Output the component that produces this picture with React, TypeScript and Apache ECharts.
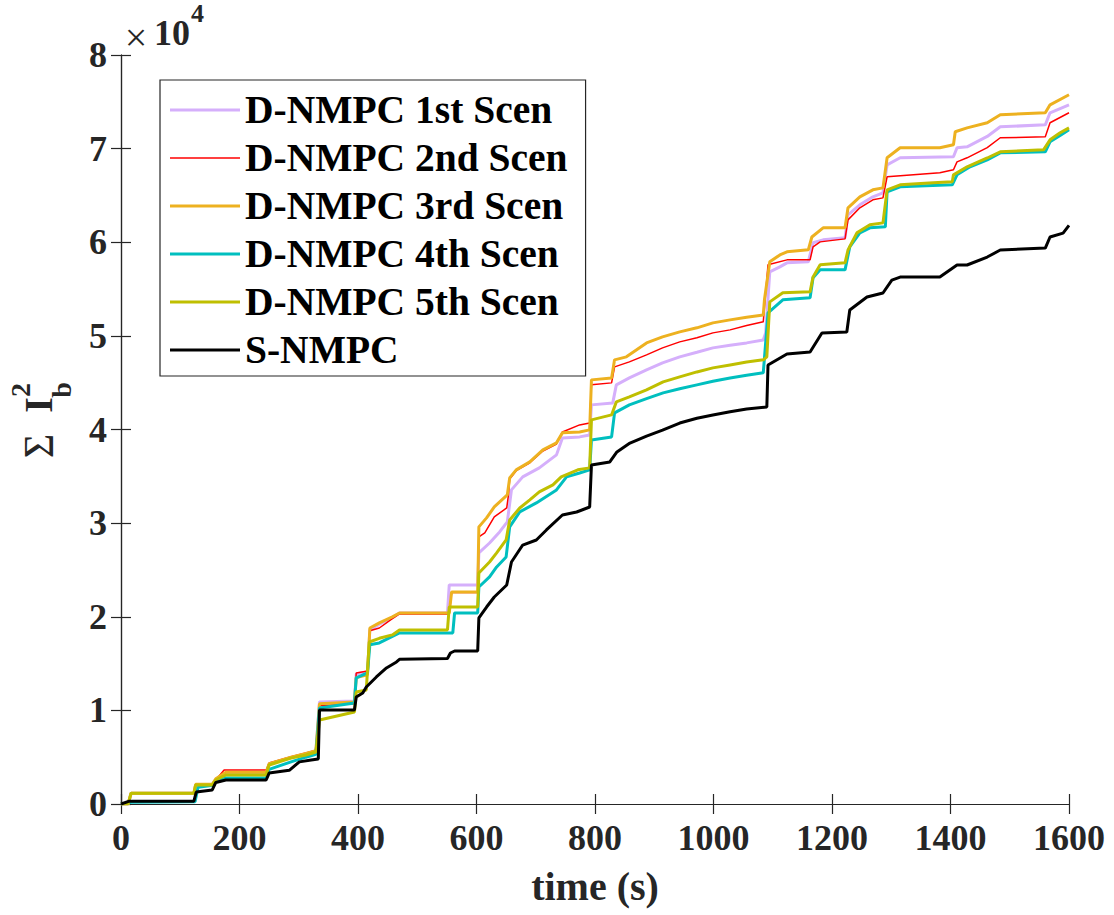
import React, { useEffect, useRef } from 'react';
import * as echarts from 'echarts';

// Cumulative sum of squared battery current, [time (s), ΣIb²]
const scen1: [number, number][] = [[0,0],[12,0],[17,1150],[123,1150],[126,2050],[154,2050],[160,2650],[177,3300],[245,3300],[250,4250],[287,4950],[312,5350],[329,5650],[335,10900],[394,11000],[397,13900],[416,14100],[420,18600],[436,19200],[458,19900],[470,20400],[551,20400],[554,23400],[602,23400],[604,26820],[622,27880],[639,29060],[652,30130],[659,33550],[678,34940],[706,35900],[735,37290],[745,39100],[774,39210],[791,39420],[794,42630],[830,42840],[836,44770],[858,45510],[887,46370],[914,47120],[943,47760],[972,48250],[999,48720],[1028,49000],[1056,49250],[1084,49570],[1088,50320],[1095,56840],[1112,57370],[1124,57800],[1160,57910],[1168,59940],[1185,60260],[1222,60470],[1227,62930],[1247,64000],[1269,64850],[1286,65280],[1293,68270],[1315,69020],[1405,69130],[1411,70090],[1428,70190],[1462,71300],[1484,72330],[1560,72540],[1568,73830],[1600,74680]];

const scen2: [number, number][] = [[0,0],[12,0],[17,1150],[123,1150],[126,2030],[154,2100],[160,2560],[174,3630],[245,3630],[250,4380],[287,5050],[312,5450],[329,5750],[335,10500],[394,10700],[397,14000],[416,14200],[420,18500],[436,18800],[458,19800],[470,20300],[554,20300],[558,22600],[602,22600],[604,28520],[614,28950],[630,30660],[651,31620],[654,33010],[656,34700],[667,35600],[690,36450],[712,37700],[735,38450],[745,39740],[774,40490],[791,40700],[794,44770],[828,44980],[833,46690],[858,47220],[887,47970],[914,48720],[943,49360],[972,49790],[999,50320],[1028,50640],[1056,51100],[1084,51500],[1092,57590],[1124,58120],[1163,58120],[1168,59510],[1180,60040],[1222,60360],[1227,62390],[1247,63680],[1269,64530],[1286,64740],[1293,66990],[1382,67420],[1405,67740],[1411,68590],[1428,69020],[1462,70100],[1484,71160],[1560,71260],[1568,72760],[1600,73830]];

const scen3: [number, number][] = [[0,0],[12,0],[17,1150],[123,1150],[126,2100],[154,2100],[160,2700],[177,3400],[245,3400],[250,4300],[287,5000],[312,5400],[329,5700],[335,10700],[394,10900],[397,13500],[416,13800],[420,18800],[436,19340],[458,19980],[470,20400],[554,20400],[558,22650],[602,22650],[604,29600],[617,30560],[630,31730],[652,33010],[656,34830],[667,35690],[690,36540],[712,37820],[735,38570],[745,39640],[774,39740],[791,39960],[794,45300],[828,45510],[833,47440],[853,47760],[887,49250],[914,49890],[943,50430],[972,50860],[999,51390],[1028,51710],[1056,52000],[1084,52240],[1086,53850],[1095,57910],[1112,58650],[1124,58980],[1160,59190],[1166,60560],[1185,61540],[1222,61540],[1227,63680],[1247,64850],[1269,65600],[1286,65810],[1293,69020],[1315,70090],[1382,70090],[1405,70410],[1408,71800],[1428,72220],[1462,72760],[1484,73610],[1560,73830],[1568,74680],[1600,75750]];

const scen4: [number, number][] = [[0,0],[20,200],[125,250],[130,1800],[155,2000],[160,2400],[177,2780],[245,2780],[250,3700],[287,4500],[312,5000],[329,5300],[335,10250],[394,10790],[397,13460],[416,14000],[420,17000],[436,17200],[458,17900],[470,18270],[560,18270],[563,20400],[602,20400],[604,23180],[622,24250],[634,25320],[650,26390],[656,29600],[673,31200],[701,32160],[735,33550],[752,34940],[774,35360],[791,35690],[794,38890],[828,39210],[833,41770],[858,42630],[887,43300],[915,43910],[943,44350],[972,44770],[999,45150],[1028,45510],[1056,45800],[1084,46050],[1092,52460],[1117,53850],[1163,54060],[1168,56200],[1180,57050],[1222,57050],[1230,59510],[1247,61000],[1264,61540],[1290,61650],[1293,65390],[1315,65920],[1403,66130],[1411,67200],[1433,68060],[1462,68800],[1484,69550],[1560,69660],[1568,70730],[1585,71400],[1600,72010]];

const scen5: [number, number][] = [[0,0],[12,0],[17,1150],[123,1150],[126,2030],[154,2030],[160,2560],[177,3100],[245,3100],[250,4170],[287,4900],[312,5230],[329,5550],[335,8970],[394,9830],[397,11960],[414,12180],[419,17300],[436,17700],[458,18060],[470,18590],[551,18590],[554,21050],[602,21050],[604,24680],[622,25850],[634,26820],[650,28200],[656,30340],[673,31620],[690,32480],[706,33330],[729,34080],[743,34940],[771,35690],[791,35900],[794,41030],[828,41560],[836,42950],[858,43480],[887,44230],[915,45090],[943,45620],[972,46150],[999,46580],[1028,46900],[1056,47200],[1084,47440],[1090,47760],[1095,53630],[1117,54600],[1163,54700],[1168,56300],[1180,57590],[1222,57800],[1227,59170],[1242,61000],[1264,61860],[1286,62070],[1293,65600],[1315,66130],[1371,66350],[1403,66450],[1405,67200],[1428,68060],[1462,69000],[1484,69660],[1557,69870],[1568,70940],[1585,71690],[1600,72220]];

const sNmpc: [number, number][] = [[0,0],[14,300],[123,300],[127,1280],[154,1500],[160,2300],[177,2560],[245,2560],[250,3300],[284,3600],[301,4500],[321,4700],[333,4800],[335,10040],[394,10040],[397,11430],[408,11860],[414,12500],[431,13570],[448,14530],[465,15170],[470,15450],[551,15550],[556,16130],[563,16340],[602,16340],[604,19870],[617,21040],[630,22110],[651,23390],[659,25850],[678,27660],[701,28200],[718,29270],[745,30870],[769,31190],[791,31720],[794,36200],[825,36530],[837,37600],[859,38550],[887,39300],[914,39940],[943,40690],[972,41200],[999,41550],[1028,41900],[1056,42200],[1090,42400],[1092,46890],[1124,48070],[1163,48270],[1183,50300],[1225,50410],[1230,52760],[1259,54150],[1286,54580],[1301,55960],[1315,56280],[1382,56280],[1411,57570],[1428,57570],[1462,58420],[1484,59170],[1560,59380],[1568,60560],[1590,60980],[1600,61800]];

const seriesNames = ['D-NMPC 1st Scen', 'D-NMPC 2nd Scen', 'D-NMPC 3rd Scen', 'D-NMPC 4th Scen', 'D-NMPC 5th Scen', 'S-NMPC'];
const seriesData = [scen1, scen2, scen3, scen4, scen5, sNmpc];
const seriesColors = ['#D5AFFB', '#FF0000', '#EDB120', '#00BFBF', '#BFBF00', '#000000'];
const seriesWidths = [3, 1.5, 3, 3, 3, 3];

const xTicks = { min: 0, max: 1600, step: 200 };
const yTicks = { min: 0, max: 80000, step: 10000 };
const yScale = 10000;

const SERIF = '"Liberation Serif", "Times New Roman", serif';
const AXIS = '#262626';

export default function App() {
  const ref = useRef<HTMLDivElement>(null);

  useEffect(() => {
    if (!ref.current) return;
    const chart = echarts.init(ref.current, null, { renderer: 'svg' });

    const tickLabel = { fontFamily: SERIF, fontWeight: 'bold' as const, fontSize: 36, color: AXIS };
    const boxAxis = {
      axisLine: { show: true, lineStyle: { color: AXIS, width: 1.2 } },
      axisTick: { show: true, inside: true, length: 10, lineStyle: { color: AXIS, width: 1.2 } },
      splitLine: { show: false },
    };

    chart.setOption({
      animation: false,
      backgroundColor: '#ffffff',
      grid: { left: 121, right: 45, top: 55, bottom: 111 },
      xAxis: [
        {
          type: 'value', min: xTicks.min, max: xTicks.max, interval: xTicks.step,
          position: 'bottom', ...boxAxis,
          axisLabel: { ...tickLabel, margin: 16, formatter: (v: number) => String(v) },
          name: 'time (s)', nameLocation: 'middle', nameGap: 62,
          nameTextStyle: { fontFamily: SERIF, fontWeight: 'bold', fontSize: 40, color: AXIS },
        },
        {
          type: 'value', min: xTicks.min, max: xTicks.max, interval: xTicks.step,
          position: 'top', ...boxAxis, axisLabel: { show: false },
        },
      ],
      yAxis: [
        {
          type: 'value', min: yTicks.min, max: yTicks.max, interval: yTicks.step,
          position: 'left', ...boxAxis,
          axisLabel: { ...tickLabel, margin: 14, formatter: (v: number) => String(v / yScale) },
        },
        {
          type: 'value', min: yTicks.min, max: yTicks.max, interval: yTicks.step,
          position: 'right', ...boxAxis, axisLabel: { show: false },
        },
      ],
      legend: {
        orient: 'vertical', left: 160, top: 80,
        data: seriesNames.map((name, i) => ({
          name,
          icon: i === 1 ? 'path://M0,0H70V1.6H0Z' : 'rect',
        })),
        itemWidth: 70, itemHeight: 3, itemGap: 0,
        padding: [6, 18, 2, 10],
        borderColor: AXIS, borderWidth: 1.2,
        backgroundColor: '#ffffff',
        selectedMode: false,
        textStyle: { fontFamily: SERIF, fontWeight: 'bold', fontSize: 39.5, color: '#000', lineHeight: 48 },
      },
      series: seriesData.map((data, i) => ({
        name: seriesNames[i], type: 'line', data,
        xAxisIndex: 0, yAxisIndex: 0,
        symbol: 'none', showSymbol: false,
        lineStyle: { color: seriesColors[i], width: seriesWidths[i] },
        itemStyle: { color: seriesColors[i] },
        z: 2 + i,
      })),
      graphic: [
        // ΣIb² axis title, rotated to read upwards
        {
          type: 'group', x: 52, y: 458, rotation: Math.PI / 2,
          children: [
            { type: 'text', x: 12, y: -13, style: { text: 'Σ', font: `42px ${SERIF}`, fill: AXIS, textAlign: 'center', textVerticalAlign: 'middle' } },
            { type: 'text', x: 53, y: -14, style: { text: 'I', font: `bold 40px ${SERIF}`, fill: AXIS, textAlign: 'center', textVerticalAlign: 'middle' } },
            { type: 'text', x: 68, y: 9, style: { text: 'b', font: `bold 28px ${SERIF}`, fill: AXIS, textAlign: 'center', textVerticalAlign: 'middle' } },
            { type: 'text', x: 68, y: -32, style: { text: '2', font: `bold 28px ${SERIF}`, fill: AXIS, textAlign: 'center', textVerticalAlign: 'middle' } },
          ],
        },
        // ×10⁴ axis exponent
        { type: 'text', x: 136, y: 37, style: { text: '×', font: `40px ${SERIF}`, fill: AXIS, textAlign: 'center', textVerticalAlign: 'middle' } },
        { type: 'text', x: 154, y: 33, style: { text: '10', font: `bold 36px ${SERIF}`, fill: AXIS, textAlign: 'left', textVerticalAlign: 'middle' } },
        { type: 'text', x: 191, y: 13, style: { text: '4', font: `bold 26px ${SERIF}`, fill: AXIS, textAlign: 'left', textVerticalAlign: 'middle' } },
      ],
    });

    return () => chart.dispose();
  }, []);

  return (
    <div
      ref={ref}
      style={{ position: 'fixed', left: 0, top: 0, width: 1114, height: 915, background: '#fff' }}
    />
  );
}
